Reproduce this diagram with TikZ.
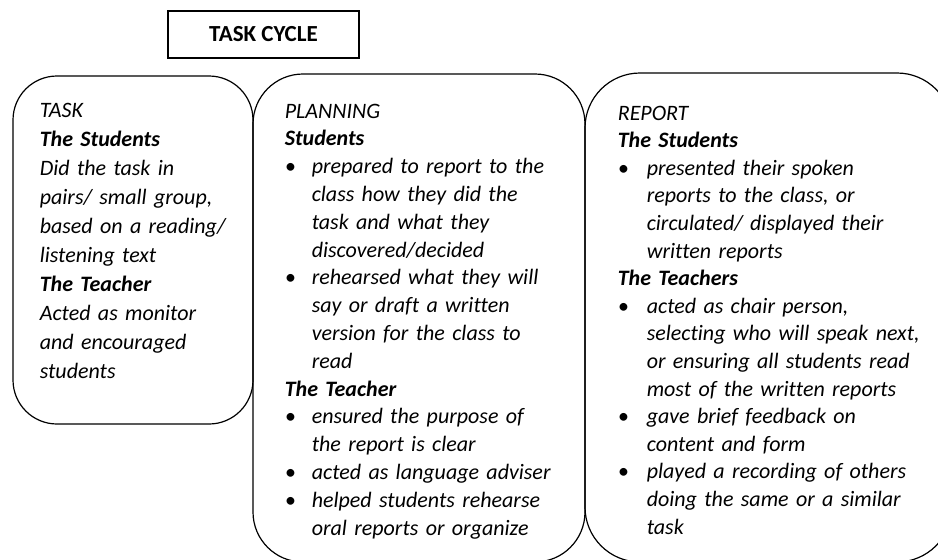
\documentclass[tikz,border=0pt]{standalone}
\usepackage{fontspec}
\setmainfont{Carlito}[Ligatures=NoCommon]
\usetikzlibrary{positioning, calc}

% bullet line with hanging indent
\newcommand{\bitem}[1]{\par\hangindent=#1\hangafter=1\noindent\hbox to #1{\textbullet\hfil}}

\tikzset{
  cyclebox/.style={draw, line width=0.6pt, rounded corners=#1, inner sep=0pt},
  cyclebox/.default=20pt,
  titlebox/.style={draw, line width=0.8pt, inner sep=0pt, font=\bfseries\fontsize{11.5}{14}\selectfont},
  boxtext/.style={anchor=north west, inner sep=0pt, align=left}
}

\begin{document}
\begin{tikzpicture}[x=0.5pt, y=0.5pt]
        \useasboundingbox (0,0) rectangle (938,559);
        \clip (0,0) rectangle (938,559);

        % Title
        \node[titlebox, minimum width=95.5pt, minimum height=23.5pt] (title) at (263.5,524.5) {TASK CYCLE};

        % Stage boxes
        \node[cyclebox=22pt, minimum width=120pt, minimum height=174pt] (task) at (133,309) {};
        \node[cyclebox=25pt, minimum width=166pt, minimum height=244pt] (planning) at (419,241) {};
        \node[cyclebox=27.5pt, minimum width=183.5pt, minimum height=244.5pt] (report) at (768.5,241.5) {};

        % Task text
        \node[boxtext, text width=108pt, font=\itshape\fontsize{11}{14.5}\selectfont] (tasktext) at ($(task.north west)+(27,-27)$) {%
          TASK\newline
          \textbf{The Students}\newline
          Did the task in\newline
          pairs/ small group,\newline
          based on a reading/\newline
          listening text\newline
          \textbf{The Teacher}\newline
          Acted as monitor\newline
          and encouraged\newline
          students\par};

        % Planning text
        \node[boxtext, text width=150pt, font=\itshape\fontsize{11}{13.9}\selectfont] (plantext) at ($(planning.north west)+(32,-30)$) {%
          PLANNING\newline
          \textbf{Students}
          \bitem{13.5pt}prepared to report to the\newline
          class how they did the\newline
          task and what they\newline
          discovered/decided
          \bitem{13.5pt}rehearsed what they will\newline
          say or draft a written\newline
          version for the class to\newline
          read
          \par\noindent\textbf{The Teacher}
          \bitem{13.5pt}ensured the purpose of\newline
          the report is clear
          \bitem{13.5pt}acted as language adviser
          \bitem{13.5pt}helped students rehearse\newline
          oral reports or organize\par};

        % Report text
        \node[boxtext, text width=160pt, font=\itshape\fontsize{11}{13.8}\selectfont] (reptext) at ($(report.north west)+(33,-33)$) {%
          REPORT\newline
          \textbf{The Students}
          \bitem{14.5pt}presented their spoken\newline
          reports to the class, or\newline
          circulated/ displayed their\newline
          written reports
          \par\noindent\textbf{The Teachers}
          \bitem{14.5pt}acted as chair person,\newline
          selecting who will speak next,\newline
          or ensuring all students read\newline
          most of the written reports
          \bitem{14.5pt}gave brief feedback on\newline
          content and form
          \bitem{14.5pt}played a recording of others\newline
          doing the same or a similar\newline
          task\par};
\end{tikzpicture}
\end{document}
